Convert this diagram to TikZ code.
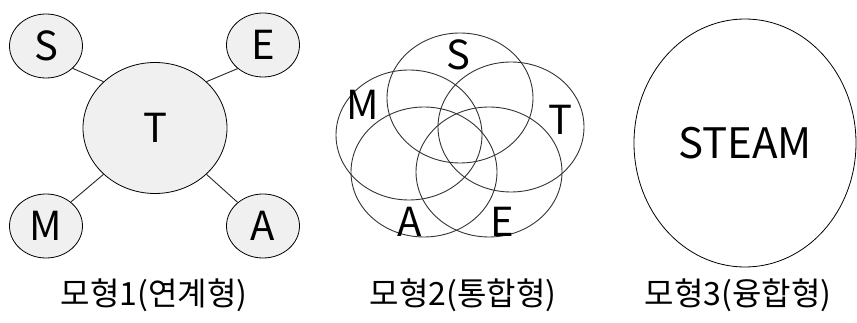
\documentclass[tikz,border=0pt]{standalone}
\usepackage{fontspec}
\setmainfont{Noto Sans CJK KR}
\usetikzlibrary{shapes.geometric}

\tikzstyle{bubble} = [draw, ellipse, fill = gray!12, minimum width = 73pt, minimum height = 64pt, inner sep = 0pt, line width = 0.8pt, font = \fontsize{40}{42}\selectfont]
\tikzstyle{core} = [bubble, minimum width = 144pt, minimum height = 131pt]
\tikzstyle{ring} = [draw = black!80, ellipse, minimum width = 146pt, minimum height = 130pt, inner sep = 0pt, line width = 0.9pt]
\tikzstyle{letter} = [inner sep = 0pt, font = \fontsize{40}{42}\selectfont]
\tikzstyle{caption} = [inner sep = 0pt, font = \fontsize{32}{36}\selectfont]
\tikzstyle{link} = [draw = black!85, line width = 0.9pt]

\begin{document}
\begin{tikzpicture}[x = 1pt, y = -1pt]
		\useasboundingbox (0, 0) rectangle (857, 323);
		% model 1
		\node [core] at (155, 128) (t1) {T};
		\node [bubble] at (46, 46) (s1) {S};
		\node [bubble] at (263, 45) (e1) {E};
		\node [bubble] at (46, 226) (m1) {M};
		\node [bubble] at (263, 226) (a1) {A};

		\draw [link] (s1.-40) -- (t1.138);
		\draw [link] (e1.-137) -- (t1.42);
		\draw [link] (m1.44) -- (t1.-138);
		\draw [link] (a1.137) -- (t1.-42);

		\node [caption] at (154, 295) (cap1) {모형1(연계형)};

		% model 2
		\node [ring] at (460, 98) (s2) {};
		\node [ring] at (409, 135) (m2) {};
		\node [ring] at (511, 127) (t2) {};
		\node [ring] at (424, 172) (a2) {};
		\node [ring] at (489, 172) (e2) {};

		\node [letter] at (458, 55) (ls) {S};
		\node [letter] at (363, 105) (lm) {M};
		\node [letter] at (560, 120) (lt) {T};
		\node [letter] at (410, 222) (la) {A};
		\node [letter] at (502, 222) (le) {E};

		\node [caption] at (463, 295) (cap2) {모형2(통합형)};

		% model 3
		\node [draw, ellipse, minimum width = 222pt, minimum height = 248pt, inner sep = 0pt, line width = 0.8pt, font = \fontsize{42}{44}\selectfont] at (745, 143) (all) {STEAM};

		\node [caption] at (738, 295) (cap3) {모형3(융합형)};
	\end{tikzpicture}
\end{document}
